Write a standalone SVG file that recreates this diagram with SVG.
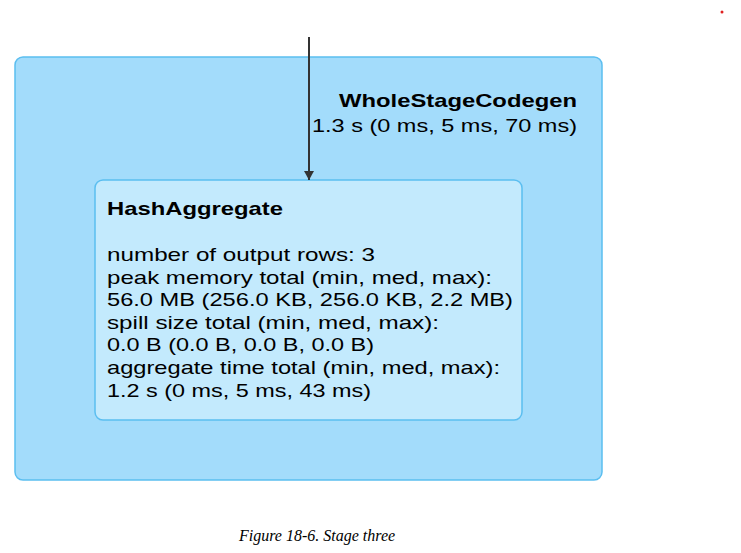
<svg xmlns="http://www.w3.org/2000/svg" width="741" height="553" viewBox="0 0 741 553">
<style>
.t{font-family:"Liberation Sans",Arial,sans-serif;font-size:19px;fill:#000}
.b{font-weight:bold}
.cap{font-family:"Liberation Serif","Times New Roman",serif;font-style:italic;font-size:16px;fill:#000}
</style>
<defs><marker id="ah" markerWidth="10" markerHeight="10" refX="9" refY="5" orient="auto" markerUnits="userSpaceOnUse"><path d="M0,0 L9,5 L0,10 z" fill="#333"/></marker></defs>
<rect width="741" height="553" fill="#fff"/>
<g id="wholestagecodegen">
<rect x="15" y="57" width="587" height="423" rx="8" fill="#a3dcfb" stroke="#5bbef0" stroke-width="1.5"/>
<text class="t b" x="577" y="107" text-anchor="end" textLength="238" lengthAdjust="spacingAndGlyphs">WholeStageCodegen</text>
<text class="t" x="577" y="132" text-anchor="end" textLength="265" lengthAdjust="spacingAndGlyphs">1.3 s (0 ms, 5 ms, 70 ms)</text>
</g>
<g id="hashaggregate">
<rect x="95" y="180" width="427" height="240" rx="8" fill="#c3eafd" stroke="#5bbef0" stroke-width="1.5"/>
<text class="t b" x="107" y="215" textLength="176" lengthAdjust="spacingAndGlyphs">HashAggregate</text>
<text class="t" x="107" y="261" textLength="268" lengthAdjust="spacingAndGlyphs">number of output rows: 3</text>
<text class="t" x="107" y="284" textLength="385" lengthAdjust="spacingAndGlyphs">peak memory total (min, med, max):</text>
<text class="t" x="107" y="306" textLength="406" lengthAdjust="spacingAndGlyphs">56.0 MB (256.0 KB, 256.0 KB, 2.2 MB)</text>
<text class="t" x="107" y="329" textLength="332" lengthAdjust="spacingAndGlyphs">spill size total (min, med, max):</text>
<text class="t" x="107" y="351" textLength="267" lengthAdjust="spacingAndGlyphs">0.0 B (0.0 B, 0.0 B, 0.0 B)</text>
<text class="t" x="107" y="374" textLength="393" lengthAdjust="spacingAndGlyphs">aggregate time total (min, med, max):</text>
<text class="t" x="107" y="397" textLength="264" lengthAdjust="spacingAndGlyphs">1.2 s (0 ms, 5 ms, 43 ms)</text>
</g>
<g id="connectors">
<line x1="309" y1="37" x2="309" y2="180" stroke="#333" stroke-width="2" marker-end="url(#ah)"/>
</g>
<circle cx="722" cy="12" r="1.5" fill="#e02020"/>
<text class="cap" x="239" y="541">Figure 18-6. Stage three</text>
</svg>
